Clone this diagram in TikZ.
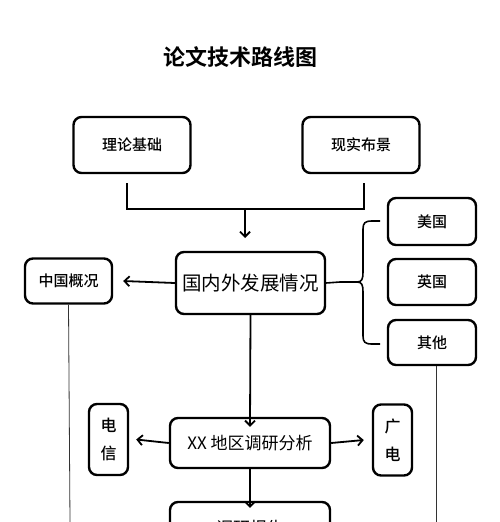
\documentclass[tikz,border=0pt]{standalone}
\usepackage{fontspec}
\setmainfont{Noto Sans CJK SC}
\newfontfamily\cjkb{Noto Sans CJK SC Bold}
\newfontfamily\cjkm{Noto Sans CJK SC Medium}
\usetikzlibrary{arrows.meta}
\begin{document}
\begin{tikzpicture}[x=1pt,y=-1pt,
  boxa/.style={draw,line width=2.4pt,rounded corners=8pt,inner sep=0pt,font=\cjkm\fontsize{15}{15}\selectfont},
  conn/.style={line width=1.8pt},
  arr/.style={conn,-{Straight Barb[length=5pt,width=10pt,line width=1.8pt]}},
  thin/.style={line width=0.8pt,draw=black!80}]
\useasboundingbox (0,0) rectangle (500,522);
\clip (0,0) rectangle (500,522);
\node (title) at (240,57) {\cjkb\fontsize{22}{22}\selectfont 论文技术路线图};
\node[boxa,minimum width=117pt,minimum height=56pt] (theory) at (132,145) {理论基础};
\node[boxa,minimum width=117pt,minimum height=56pt] (reality) at (361,145) {现实布景};
\node[boxa,minimum width=149pt,minimum height=62pt,font=\fontsize{19.5}{19.5}\selectfont] (main) at (250.5,283) {国内外发展情况};
\node[boxa,minimum width=87pt,minimum height=45pt] (china) at (68.5,281) {中国概况};
\node[boxa,minimum width=88pt,minimum height=47pt] (usa) at (432,221.5) {美国};
\node[boxa,minimum width=88pt,minimum height=46pt] (uk) at (432,282) {英国};
\node[boxa,minimum width=88pt,minimum height=45pt] (other) at (432,342.5) {其他};
\node[boxa,minimum width=160pt,minimum height=50pt,font=\fontsize{17}{17}\selectfont] (xx) at (250,443) {XX 地区调研分析};
\node[boxa,minimum width=39pt,minimum height=71pt,align=center,font=\cjkm\fontsize{16}{28}\selectfont] (tele) at (108.5,439.5) {电\\信};
\node[boxa,minimum width=39pt,minimum height=71pt,align=center,font=\cjkm\fontsize{16}{28}\selectfont] (radio) at (392.5,440) {广\\电};
\node[boxa,minimum width=160pt,minimum height=52pt,font=\fontsize{17}{17}\selectfont] (report) at (250,528) {调研报告};
% bracket from the top boxes
\coordinate (bl) at (127,183);
\coordinate (br) at (364,183);
\coordinate (bm) at (245,209);
\draw[conn,line width=1.6pt] (bl) |- (bm) -| (br);
\draw[arr] (bm) -- (245,238);
% arrow to china
\draw[arr] (main.west) -- ([xshift=10pt]china.east);
% curly brace to the right
\coordinate (bt) at (340,282);
\draw[conn,line width=1.6pt] (main.east) -- (bt) -- (357,282)
  .. controls (362,282) and (363,279) .. (363,272)
  -- (363,229)
  .. controls (363,223) and (365,221) .. (372,221) -- (380,221);
\draw[conn,line width=1.6pt] (357,282)
  .. controls (362,282) and (363,285) .. (363,292)
  -- (363,336)
  .. controls (363,342) and (365,344) .. (372,344) -- (380,344);
% thin lines down
\draw[thin] (china.south) -- (70,522);
\draw[thin] (other.south -| 436,0) -- (436,522);
% main to xx
\draw[arr] (main.south) -- ([yshift=-10pt]xx.north);
\draw[arr] (xx.west) -- ([xshift=7pt]tele.east);
\draw[arr] (xx.east) -- ([xshift=-8pt]radio.west);
\draw[arr] (xx.south) -- ([yshift=-7pt]report.north);
\end{tikzpicture}
\end{document}
